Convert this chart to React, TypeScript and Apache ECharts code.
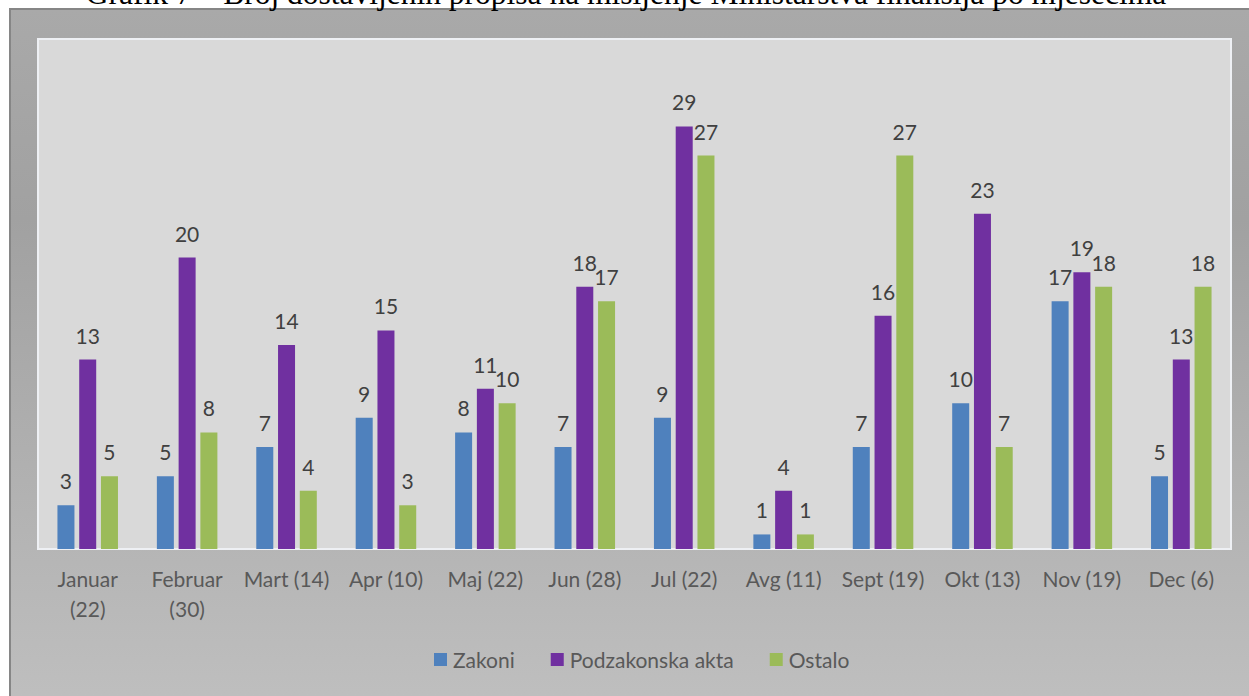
import React, { useEffect, useRef } from "react";
import * as echarts from "echarts";

const categories = [
  "Januar\n(22)",
  "Februar\n(30)",
  "Mart (14)",
  "Apr (10)",
  "Maj (22)",
  "Jun (28)",
  "Jul (22)",
  "Avg (11)",
  "Sept (19)",
  "Okt (13)",
  "Nov (19)",
  "Dec (6)",
];
const zakoni = [3, 5, 7, 9, 8, 7, 9, 1, 7, 10, 17, 5];
const podzakonska = [13, 20, 14, 15, 11, 18, 29, 4, 16, 23, 19, 13];
const ostalo = [5, 8, 4, 3, 10, 17, 27, 1, 27, 7, 18, 18];
const seriesNames = ["Zakoni", "Podzakonska akta", "Ostalo"];
const colors = ["#4f81bd", "#7030a0", "#9bbb59"];
const titleText =
  "Grafik 7 – Broj dostavljenih propisa na mišljenje Ministarstva finansija po mjesecima";

const FONT = "Lato, 'Open Sans', sans-serif";

export default function App() {
  const ref = useRef<HTMLDivElement>(null);
  useEffect(() => {
    if (!ref.current) return;
    const chart = echarts.init(ref.current, undefined, { renderer: "svg" });
    const data = [zakoni, podzakonska, ostalo];
    chart.setOption({
      animation: false,
      backgroundColor: "#ffffff",
      graphic: [
        {
          type: "rect",
          z: -10,
          shape: { x: 10, y: 9, width: 1250, height: 700 },
          style: {
            fill: new echarts.graphic.LinearGradient(0, 0, 0, 1, [
              { offset: 0, color: "#a9a9a9" },
              { offset: 0.3, color: "#a1a1a1" },
              { offset: 1, color: "#bfbfbf" },
            ]),
            stroke: "#868686",
            lineWidth: 2,
          },
        },
        {
          type: "text",
          x: 626,
          y: -7,
          style: {
            text: titleText,
            font: "31.5px 'Liberation Serif', 'Times New Roman', serif",
            fill: "#000000",
            align: "center",
            verticalAlign: "middle",
          },
        },
      ],
      grid: {
        left: 38,
        right: 18,
        top: 39,
        bottom: 147,
        show: true,
        backgroundColor: "#d9d9d9",
        borderColor: "#eef0f4",
        borderWidth: 2,
      },
      legend: {
        bottom: 21,
        left: 429,
        itemWidth: 13,
        itemHeight: 13,
        itemGap: 36,
        icon: "rect",
        textStyle: { color: "#595959", fontSize: 21, fontFamily: FONT, padding: [0, 0, 0, 1] },
        data: seriesNames,
      },
      xAxis: {
        type: "category",
        data: categories,
        axisLine: { show: false },
        axisTick: { show: false },
        axisLabel: {
          color: "#595959",
          fontSize: 21,
          fontFamily: FONT,
          lineHeight: 30,
          margin: 14,
          interval: 0,
        },
      },
      yAxis: {
        type: "value",
        min: 0,
        max: 35,
        show: false,
        splitLine: { show: false },
      },
      series: seriesNames.map((name, i) => ({
        name,
        type: "bar",
        data: data[i],
        barWidth: 17,
        barGap: "28%",
        itemStyle: { color: colors[i] },
        label: {
          show: true,
          position: "top",
          distance: 14,
          color: "#404040",
          fontSize: 21,
          fontFamily: FONT,
        },
      })),
    });
    return () => chart.dispose();
  }, []);
  return (
    <div
      ref={ref}
      style={{ position: "absolute", left: 0, top: 0, width: 1249, height: 696 }}
    />
  );
}
